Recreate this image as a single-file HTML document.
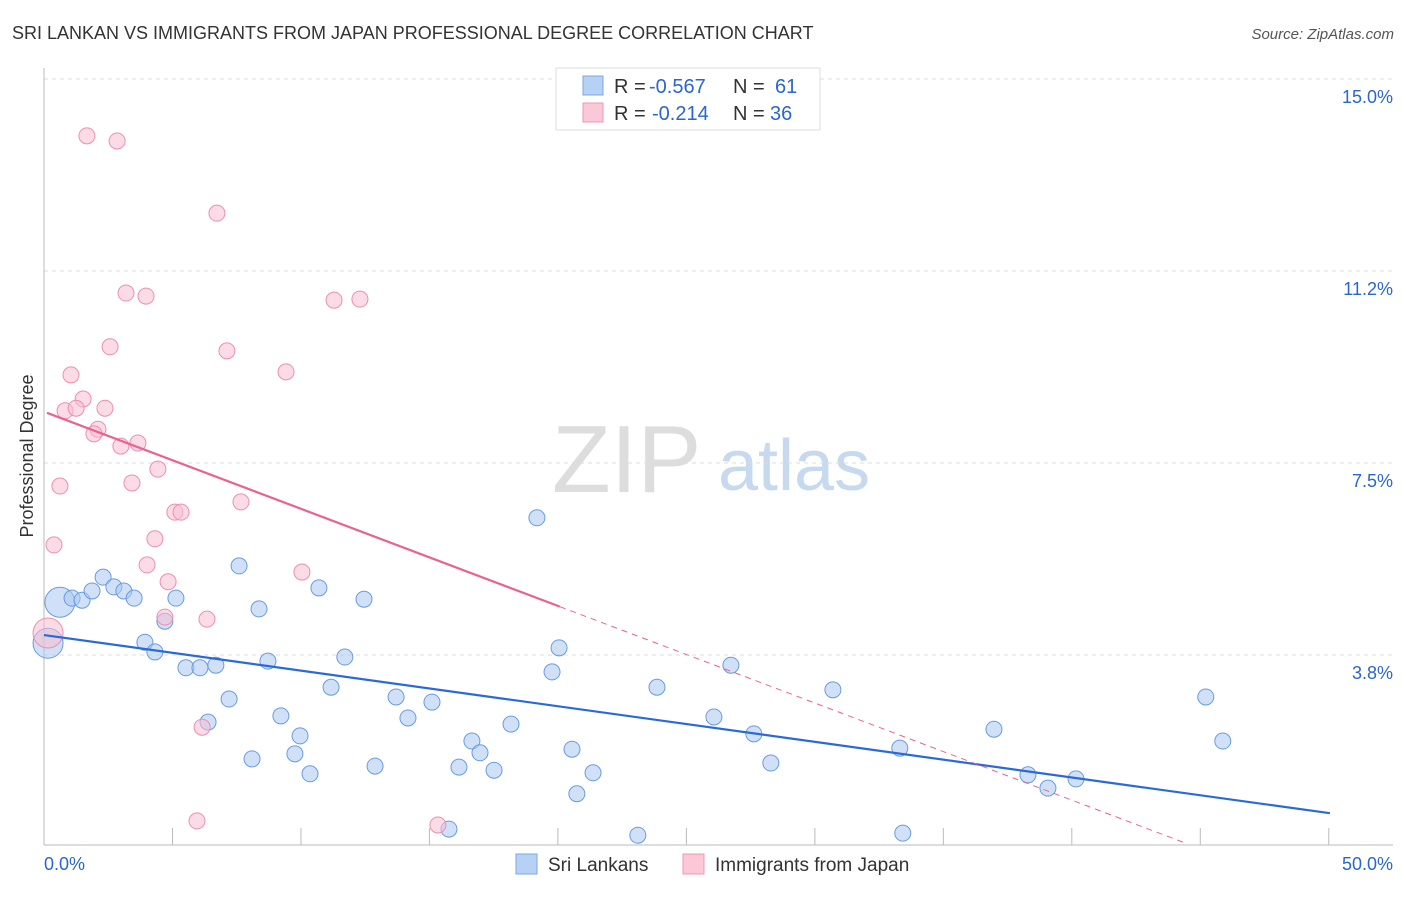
<!DOCTYPE html>
<html><head><meta charset="utf-8"><style>
body{margin:0;background:#fff;font-family:"Liberation Sans",sans-serif}
svg text{font-family:"Liberation Sans",sans-serif}
</style></head><body>
<svg id="chart" width="1406" height="892" xmlns="http://www.w3.org/2000/svg">
<text x="12" y="39" font-size="18" fill="#333">SRI LANKAN VS IMMIGRANTS FROM JAPAN PROFESSIONAL DEGREE CORRELATION CHART</text>
<text x="1394" y="39" font-size="15" fill="#555" font-style="italic" text-anchor="end">Source: ZipAtlas.com</text>
<text transform="translate(33,456) rotate(-90)" font-size="18" fill="#333" text-anchor="middle">Professional Degree</text>
<g>
<text x="552" y="492" font-size="96" fill="#ddd" font-family="Liberation Serif,serif">ZIP</text>
<text x="718" y="490" font-size="72" fill="#c7d9ef">atlas</text>
</g>
<g id="grid"></g><g id="marks"></g>
<g>
<rect x="556" y="68" width="264" height="62" fill="#fff" stroke="#ddd"/>
<rect x="583" y="76" width="20" height="19" fill="#b7d1f5" stroke="#7aa7e6"/>
<rect x="583" y="103" width="20" height="19" fill="#fbc8d8" stroke="#ef97b3"/>
<text x="614" y="93" font-size="20" fill="#333">R =</text><text x="649" y="93" font-size="20" fill="#2a66cc">-0.567</text>
<text x="733" y="93" font-size="20" fill="#333">N =</text><text x="775" y="93" font-size="20" fill="#2a66cc">61</text>
<text x="614" y="120" font-size="20" fill="#333">R =</text><text x="652" y="120" font-size="20" fill="#2a66cc">-0.214</text>
<text x="733" y="120" font-size="20" fill="#333">N =</text><text x="770" y="120" font-size="20" fill="#2a66cc">36</text>
</g>
<g>
<rect x="516" y="854" width="21" height="20" fill="#b7d1f5" stroke="#7aa7e6"/>
<text x="548" y="871" font-size="19" fill="#333">Sri Lankans</text>
<rect x="683" y="854" width="21" height="20" fill="#fbc8d8" stroke="#ef97b3"/>
<text x="715" y="871" font-size="19" fill="#333">Immigrants from Japan</text>
</g>
<text x="44" y="870" font-size="18" fill="#2a66cc">0.0%</text>
<text x="1393" y="870" font-size="18" fill="#2a66cc" text-anchor="end">50.0%</text>
</svg>
<script>
const yTicks=[3.75,7.5,11.25,15];
const yTickLabels=["3.8%","7.5%","11.2%","15.0%"];
const xTickCount=10;
const blueX=[0.59,1.04,1.41,1.78,2.19,2.59,2.96,3.34,4.89,3.74,4.11,4.48,5.26,5.78,6.37,6.08,6.86,7.23,7.71,7.97,8.30,8.78,9.30,9.49,9.86,10.19,10.64,11.15,11.86,12.27,13.05,13.49,14.38,15.01,15.38,15.86,16.16,16.68,17.31,18.27,18.83,19.09,19.57,19.75,20.35,22.01,22.72,24.83,25.46,26.31,26.94,29.24,31.72,31.83,35.21,36.47,37.21,38.25,43.06,43.69,0.15];
const blueY=[4.78,4.86,4.82,5.00,5.27,5.08,5.00,4.86,4.86,4.00,3.81,4.41,3.50,3.50,3.55,2.44,2.89,5.49,1.72,4.65,3.63,2.56,1.82,2.17,1.43,5.06,3.12,3.71,4.84,1.58,2.93,2.52,2.83,0.35,1.56,2.07,1.84,1.50,2.40,6.43,3.42,3.89,1.91,1.04,1.45,0.23,3.12,2.54,3.55,2.21,1.64,3.07,1.93,0.27,2.30,1.41,1.15,1.33,2.93,2.07,3.98];
const blueBig=[0,60];
const pinkX=[1.59,2.71,6.41,3.04,3.78,10.75,11.71,2.45,6.78,8.97,1.00,1.45,0.78,1.19,2.26,2.00,1.85,3.48,2.85,4.22,0.59,3.26,7.30,4.85,5.08,0.37,4.11,3.82,9.56,4.60,4.48,6.04,5.86,5.67,14.60,0.15];
const pinkY=[13.89,13.79,12.38,10.82,10.76,10.68,10.70,9.77,9.69,9.28,9.22,8.75,8.52,8.57,8.57,8.16,8.07,7.89,7.83,7.38,7.05,7.11,6.74,6.54,6.54,5.90,6.02,5.51,5.37,5.18,4.49,4.45,2.34,0.51,0.43,4.18];
const pinkBig=[35];
const blueTrend=[[0,4.14],[47.66,0.66]];
const pinkTrend=[[0.11,8.48],[19.12,6.5],[42.29,0.08]];
const X=v=>44+v*26.98, Y=v=>847-v*51.2;
const NS="http://www.w3.org/2000/svg";
function mk(t,a,p){const e=document.createElementNS(NS,t);for(const k in a)e.setAttribute(k,a[k]);p.appendChild(e);return e;}
const grid=document.getElementById('grid'),marks=document.getElementById('marks');
yTicks.forEach((t,i)=>{
 const l=mk('line',{x1:44,x2:1393,y1:Y(t),y2:Y(t),stroke:'#ddd','stroke-dasharray':'4,4'},grid);
 
 
 const tx=mk('text',{x:1393,y:Y(t)+24,'font-size':18,fill:'#2a66cc','text-anchor':'end'},grid);tx.textContent=yTickLabels[i];
 
 
});
const ax=mk('line',{x1:44,x2:1393,y1:845,y2:845,stroke:'#bbb'},grid);


const ay=mk('line',{x1:44,x2:44,y1:68,y2:845,stroke:'#bbb'},grid);


for(let k=1;k<=xTickCount;k++){const v=k*50/10.5;const t=mk('line',{x1:X(v),x2:X(v),y1:828,y2:845,stroke:'#bbb'},grid);
 
 }
function dots(xs,ys,big,fill,stroke,name){xs.forEach((x,i)=>{const r=big.includes(i)?15:8;
 const c=mk('circle',{cx:X(x),cy:Y(ys[i]),r:r,fill:fill,'fill-opacity':0.55,stroke:stroke,'stroke-width':1},marks);
 
 });}
dots(blueX,blueY,blueBig,'#a9c8f0','#6a9be0','sri-lankan-point');
dots(pinkX,pinkY,pinkBig,'#f8bfd2','#ec8fae','japan-immigrant-point');
const bl=mk('line',{x1:X(blueTrend[0][0]),y1:Y(blueTrend[0][1]),x2:X(blueTrend[1][0]),y2:Y(blueTrend[1][1]),stroke:'#2a6ad8','stroke-width':2.2},marks);


const slope=(pinkTrend[2][1]-pinkTrend[0][1])/(pinkTrend[2][0]-pinkTrend[0][0]);
const py=x=>pinkTrend[0][1]+slope*(x-pinkTrend[0][0]);
const ps=mk('line',{x1:X(pinkTrend[0][0]),y1:Y(pinkTrend[0][1]),x2:X(pinkTrend[1][0]),y2:Y(py(pinkTrend[1][0])),stroke:'#e8638f','stroke-width':2.2},marks);


const pd=mk('line',{x1:X(pinkTrend[1][0]),y1:Y(py(pinkTrend[1][0])),x2:X(pinkTrend[2][0]),y2:Y(pinkTrend[2][1]),stroke:'#e8638f','stroke-width':1,'stroke-dasharray':'6,5'},marks);


</script>
</body></html>
